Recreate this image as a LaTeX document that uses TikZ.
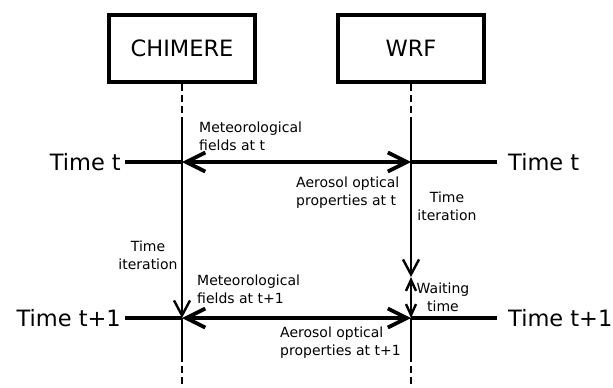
\documentclass[tikz,border=0pt]{standalone}
\usepackage{fontspec}
\setmainfont{DejaVu Sans}
\usetikzlibrary{arrows.meta,positioning}

\tikzset{
  model/.style={draw, line width=3.8pt, minimum width=146pt, minimum height=67pt, font=\fontsize{22.5}{27}\selectfont},
  timelab/.style={inner sep=0pt, font=\fontsize{22.5}{27}\selectfont},
  note/.style={inner sep=0pt, font=\fontsize{14}{18.5}\selectfont},
  lifeline/.style={line width=2.4pt},
  dashline/.style={lifeline, dash pattern=on 7pt off 4pt},
  timeline/.style={line width=3.8pt},
  exchange/.style={timeline, {Straight Barb[length=19pt,width=19pt]}-{Straight Barb[length=19pt,width=19pt]}},
  iterate/.style={lifeline, -{Straight Barb[length=15pt,width=16pt]}},
  waiting/.style={lifeline, {Straight Barb[length=11pt,width=10pt]}-{Straight Barb[length=11pt,width=10pt]}},
}

\begin{document}
\begin{tikzpicture}[x=1pt,y=-1pt]
  \useasboundingbox (0,0) rectangle (613,388);

  % the two models
  \node[model] (chimere) at (182,48.5) {CHIMERE};
  \node[model] (wrf) at (411,48.5) {WRF};

  % points on the lifelines
  \coordinate (ctop) at (182,119);
  \coordinate (c0) at (182,162);
  \coordinate (c1) at (182,318);
  \coordinate (cbot) at (182,355);
  \coordinate (cend) at (182,388);
  \coordinate (wtop) at (411,119);
  \coordinate (w0) at (411,162);
  \coordinate (wwait) at (411,277);
  \coordinate (w1) at (411,318);
  \coordinate (wbot) at (411,355);
  \coordinate (wend) at (411,388);

  % ends of the time lines
  \coordinate (cleft) at (125,162);
  \coordinate (wright) at (497,162);
  \coordinate (cleft1) at (125,318);
  \coordinate (wright1) at (497,318);

  \node[timelab, left=4pt of cleft] (tl) {Time t};
  \node[timelab, right=11pt of wright] (tr) {Time t};
  \node[timelab, left=4pt of cleft1] (tl1) {Time t+1};
  \node[timelab, right=11pt of wright1] (tr1) {Time t+1};

  % lifelines
  \draw[dashline] (chimere.south) -- (ctop);
  \draw[lifeline] (ctop) -- (c0);
  \draw[iterate] (c0) -- (c1);
  \draw[lifeline] (c1) -- (cbot);
  \draw[dashline] (cbot) -- (cend);

  \draw[dashline] (wrf.south) -- (wtop);
  \draw[lifeline] (wtop) -- (w0);
  \draw[iterate] (w0) -- (wwait);
  \draw[waiting] (wwait) -- (w1);
  \draw[lifeline] (w1) -- (wbot);
  \draw[dashline] (wbot) -- (wend);

  % time steps
  \draw[timeline] (cleft) -- (c0);
  \draw[exchange] (c0) -- (w0);
  \draw[timeline] (w0) -- (wright);

  \draw[timeline] (cleft1) -- (c1);
  \draw[exchange] (c1) -- (w1);
  \draw[timeline] (w1) -- (wright1);

  % labels
  \node[note, align=left, anchor=north west] (met0) at (199,121.5) {Meteorological\\fields at t};
  \node[note, align=left, anchor=north west] (aer0) at (296,176.5) {Aerosol optical\\properties at t};
  \node[note, align=center, anchor=north] (itw) at (447,191.5) {Time\\iteration};
  \node[note, align=center, anchor=north] (itc) at (148,240.5) {Time\\iteration};
  \node[note, align=left, anchor=north west] (met1) at (197,274.5) {Meteorological\\fields at t+1};
  \node[note, align=center, anchor=north] (wait) at (443,282.5) {Waiting\\time};
  \node[note, align=left, anchor=north west] (aer1) at (280,326.5) {Aerosol optical\\properties at t+1};
\end{tikzpicture}
\end{document}
